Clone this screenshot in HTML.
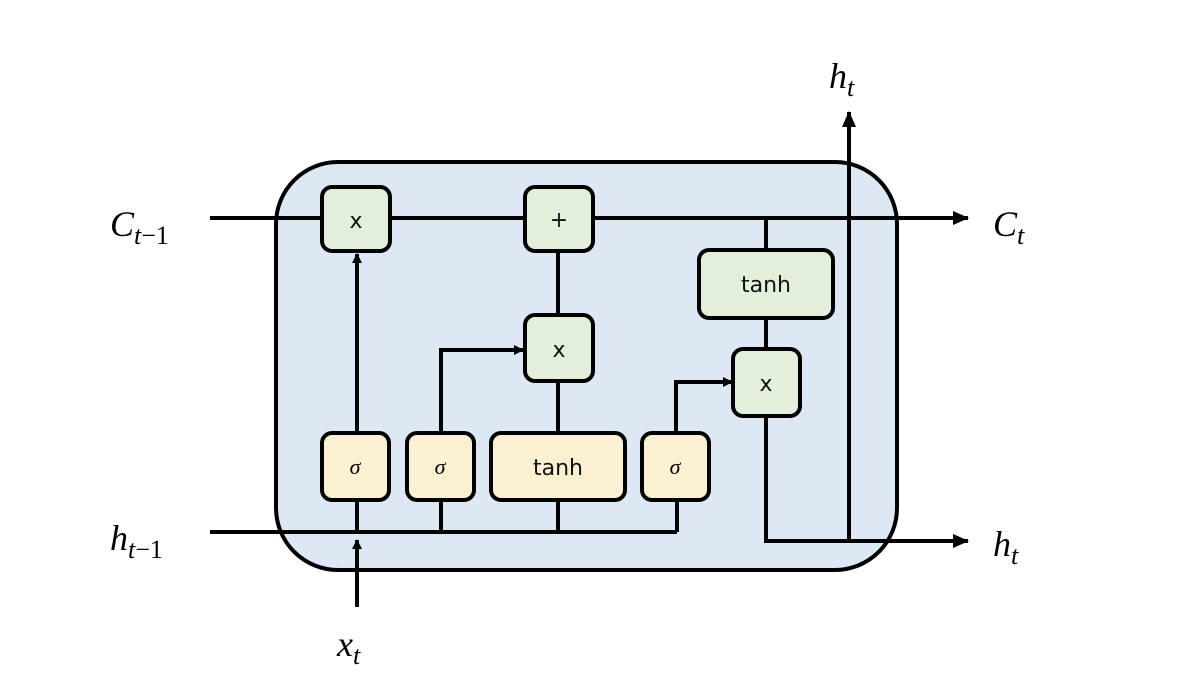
<!DOCTYPE html>
<html><head><meta charset="utf-8"><style>
html,body{margin:0;padding:0;background:#fff;}
svg{display:block;}
.m{font-family:"Liberation Serif",serif;font-style:italic;fill:#000;}
.s{font-family:"DejaVu Sans","Liberation Sans",sans-serif;fill:#111;}
</style></head><body>
<svg width="1184" height="696" viewBox="0 0 1184 696" xmlns="http://www.w3.org/2000/svg">
<defs>
<marker id="a" markerWidth="10" markerHeight="10" refX="9" refY="5" orient="auto" markerUnits="userSpaceOnUse">
<path d="M0,0 L10,5 L0,10 Z" fill="#000"/></marker>
<marker id="b" markerWidth="16" markerHeight="14" refX="15" refY="7" orient="auto" markerUnits="userSpaceOnUse">
<path d="M0,0 L16,7 L0,14 Z" fill="#000"/></marker>
</defs>
<rect x="276" y="162" width="621" height="408" rx="62" fill="#dee8f4" stroke="#000" stroke-width="4"/>
<g stroke="#000" stroke-width="4" fill="none">
<line x1="210" y1="218" x2="968" y2="218" marker-end="url(#b)"/>
<line x1="210" y1="532" x2="677" y2="532"/>
<line x1="677" y1="532" x2="677" y2="500"/>
<line x1="357" y1="607" x2="357" y2="540" marker-end="url(#a)"/>
<line x1="357" y1="532" x2="357" y2="500"/>
<line x1="441" y1="532" x2="441" y2="500"/>
<line x1="558" y1="532" x2="558" y2="500"/>
<line x1="357" y1="433" x2="357" y2="254" marker-end="url(#a)"/>
<polyline points="441,433 441,350 523,350" marker-end="url(#a)"/>
<polyline points="676,433 676,382 732,382" marker-end="url(#a)"/>
<line x1="558" y1="251" x2="558" y2="315"/>
<line x1="558" y1="381" x2="558" y2="433"/>
<line x1="766" y1="218" x2="766" y2="250"/>
<line x1="766" y1="318" x2="766" y2="349"/>
<polyline points="766,416 766,541 968,541" marker-end="url(#b)"/>
<line x1="849" y1="541" x2="849" y2="112" marker-end="url(#b)"/>
</g>
<g stroke="#000" stroke-width="4">
<rect x="322" y="187" width="68" height="64" rx="10" fill="#e2efda"/>
<rect x="525" y="187" width="68" height="64" rx="10" fill="#e2efda"/>
<rect x="525" y="315" width="68" height="66" rx="10" fill="#e2efda"/>
<rect x="699" y="250" width="134" height="68" rx="10" fill="#e2efda"/>
<rect x="733" y="349" width="67" height="67" rx="10" fill="#e2efda"/>
<rect x="322" y="433" width="67" height="67" rx="10" fill="#fcf0d2"/>
<rect x="407" y="433" width="67" height="67" rx="10" fill="#fcf0d2"/>
<rect x="491" y="433" width="134" height="67" rx="10" fill="#fcf0d2"/>
<rect x="642" y="433" width="67" height="67" rx="10" fill="#fcf0d2"/>
</g>
<g class="s" font-size="22" text-anchor="middle">
<text x="356" y="228">x</text>
<text x="559" y="227">+</text>
<text x="559" y="357">x</text>
<text x="766" y="292">tanh</text>
<text x="766" y="391">x</text>
<text x="558" y="475">tanh</text>
</g>
<g class="m" font-size="22" text-anchor="middle">
<text x="355" y="474">σ</text>
<text x="440" y="474">σ</text>
<text x="675" y="474">σ</text>
</g>
<g class="m" font-size="36">
<text x="110" y="236">C<tspan font-size="26" dy="8">t</tspan><tspan font-size="26" font-style="normal">−1</tspan></text>
<text x="110" y="550">h<tspan font-size="26" dy="8">t</tspan><tspan font-size="26" font-style="normal">−1</tspan></text>
<text x="337" y="656">x<tspan font-size="26" dy="8">t</tspan></text>
<text x="829" y="88">h<tspan font-size="26" dy="8">t</tspan></text>
<text x="993" y="236">C<tspan font-size="26" dy="8">t</tspan></text>
<text x="993" y="556">h<tspan font-size="26" dy="8">t</tspan></text>
</g>
</svg>
</body></html>
